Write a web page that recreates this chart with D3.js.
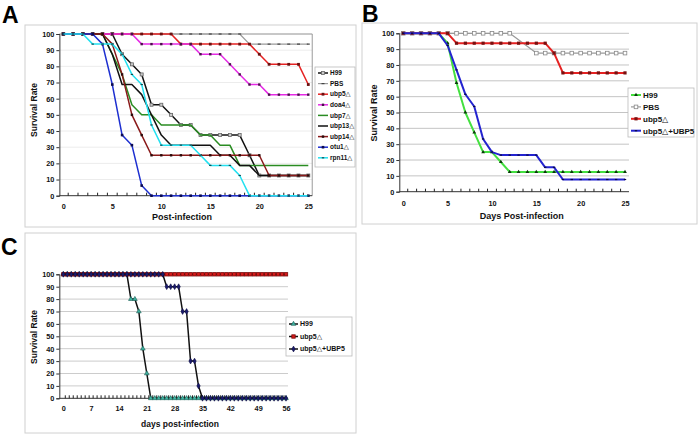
<!DOCTYPE html>
<html><head><meta charset="utf-8">
<script src="https://cdn.jsdelivr.net/npm/d3@7"></script>
<style>
html,body{margin:0;padding:0;background:#fff;}
svg text{font-family:"Liberation Sans",Arial,"DejaVu Sans",sans-serif;font-weight:bold;}
</style></head>
<body>
<svg id="c" width="699" height="439"></svg>
<script>
// ---------- DATA ----------
const daysA = [0,1,2,3,4,5,6,7,8,9,10,11,12,13,14,15,16,17,18,19,20,21,22,23,24,25];
const ticksA = [0,5,10,15,20,25];
const yTicks = [0,10,20,30,40,50,60,70,80,90,100];

const a_H99   = [100,100,100,100,100,100,87.5,81.25,75,56.25,56.25,50,43.75,43.75,37.5,37.5,37.5,37.5,37.5,25,12.5,12.5,12.5,12.5,12.5,12.5];
const a_PBS   = [100,100,100,100,100,100,100,100,100,100,100,100,100,100,100,100,100,100,100,93.75,93.75,93.75,93.75,93.75,93.75,93.75];
const a_ubp5  = [100,100,100,100,100,100,100,100,100,100,100,100,93.75,93.75,93.75,93.75,93.75,93.75,93.75,93.75,87.5,81.25,81.25,81.25,81.25,68.75];
const a_doa4  = [100,100,100,100,100,100,100,100,93.75,93.75,93.75,93.75,93.75,93.75,87.5,87.5,87.5,81.25,75,68.75,68.75,62.5,62.5,62.5,62.5,62.5];
const a_ubp7  = [100,100,100,100,100,87.5,75,56.25,50,50,43.75,43.75,43.75,43.75,37.5,37.5,31.25,31.25,18.75,18.75,18.75,18.75,18.75,18.75,18.75,18.75];
const a_ubp13 = [100,100,100,100,100,87.5,68.75,68.75,62.5,50,37.5,31.25,31.25,31.25,31.25,31.25,25,25,18.75,18.75,12.5,12.5,12.5,12.5,12.5,12.5];
const a_ubp14 = [100,100,100,100,100,93.75,75,50,37.5,25,25,25,25,25,25,25,25,25,25,25,25,12.5,12.5,12.5,12.5,12.5];
const a_otu1  = [100,100,100,100,93.75,68.75,37.5,31.25,6.25,0,0,0,0,0,0,0,0,0,0,0,0,0,0,0,0,0];
const a_rpn11 = [100,100,100,93.75,93.75,93.75,87.5,75,68.75,43.75,31.25,31.25,31.25,31.25,25,18.75,18.75,18.75,12.5,0,0,0,0,0,0,0];

const daysB = [0,1,2,3,4,5,6,7,8,9,10,11,12,13,14,15,16,17,18,19,20,21,22,23,24,25];
const ticksB = [0,5,10,15,20,25];
const b_H99   = [100,100,100,100,100,93.75,68.75,50,37.5,25,25,18.75,12.5,12.5,12.5,12.5,12.5,12.5,12.5,12.5,12.5,12.5,12.5,12.5,12.5,12.5];
const b_PBS   = [100,100,100,100,100,100,100,100,100,100,100,100,100,null,null,87.5,87.5,87.5,87.5,87.5,87.5,87.5,87.5,87.5,87.5,87.5];
const b_ubp5  = [100,100,100,100,100,100,93.75,93.75,93.75,93.75,93.75,93.75,93.75,93.75,93.75,93.75,93.75,87.5,75,75,75,75,75,75,75,75];
const b_ubp5c = [100,100,100,100,100,92.3,76.9,61.5,53.8,33.3,25,23.1,23.1,23.1,23.1,23.1,15.4,15.4,7.7,7.7,7.7,7.7,7.7,7.7,7.7,7.7];

const daysC = [0,1,2,3,4,5,6,7,8,9,10,11,12,13,14,15,16,17,18,19,20,21,22,23,24,25,26,27,28,29,30,31,32,33,34,35,36,37,38,39,40,41,42,43,44,45,46,47,48,49,50,51,52,53,54,55,56];
const ticksC = [0,7,14,21,28,35,42,49,56];
const c_H99   = [100,100,100,100,100,100,100,100,100,100,100,100,100,100,100,100,100,80,80,70,40,20,0,0,0,0,0,0,0,0,0,0,0,0,0,0,0,0,0,0,0,0,0,0,0,0,0,0,0,0,0,0,0,0,0,0,0];
const c_ubp5  = [100,100,100,100,100,100,100,100,100,100,100,100,100,100,100,100,100,100,100,100,100,100,100,100,100,100,100,100,100,100,100,100,100,100,100,100,100,100,100,100,100,100,100,100,100,100,100,100,100,100,100,100,100,100,100,100,100];
const c_ubp5c = [100,100,100,100,100,100,100,100,100,100,100,100,100,100,100,100,100,100,100,100,100,100,100,100,100,100,90,90,90,90,70,70,30,30,10,0,0,0,0,0,0,0,0,0,0,0,0,0,0,0,0,0,0,0,0,0,0];

const namesA = ["H99","PBS","ubp5△","doa4△","ubp7△","ubp13△","ubp14△","otu1△","rpn11△"];
const namesB = ["H99","PBS","ubp5△","ubp5△+UBP5"];
const namesC = ["H99","ubp5△","ubp5△+UBP5"];

// ---------- DRAW ----------
const svg = d3.select("#c");

function marker(g, type, x, y, st) {
  const s = st.size || 3;
  if (type === "sq") {
    g.append("rect").attr("x", x - s/2).attr("y", y - s/2).attr("width", s).attr("height", s)
      .attr("fill", st.mfill).attr("stroke", st.mstroke || "none").attr("stroke-width", st.msw || 0.8);
  } else if (type === "dash") {
    g.append("line").attr("x1", x - s/2).attr("x2", x + s/2).attr("y1", y).attr("y2", y)
      .attr("stroke", st.mfill).attr("stroke-width", 1.2);
  } else if (type === "tri") {
    g.append("path").attr("d", d3.symbol(d3.symbolTriangle, s*s*0.6)()).attr("transform", `translate(${x},${y})`)
      .attr("fill", st.mfill).attr("stroke", st.mstroke || "none").attr("stroke-width", st.msw || 0.6);
  } else if (type === "dia") {
    g.append("path").attr("d", d3.symbol(d3.symbolDiamond, s*s*0.6)()).attr("transform", `translate(${x},${y})`)
      .attr("fill", st.mfill).attr("stroke", st.mstroke || "none").attr("stroke-width", st.msw || 0.6);
  }
}

function panel(cfg) {
  const g = svg.append("g");
  const x = d3.scaleLinear().domain(cfg.xdom).range(cfg.xr);
  const y = d3.scaleLinear().domain([0, 100]).range(cfg.yr);
  const step = x(1) - x(0);
  const x0 = x(cfg.xdom[0]) - step * cfg.padL, x1 = x(cfg.xdom[1]) + step * cfg.padR;
  g.append("g").selectAll("line").data(yTicks.filter(t => t > 0)).join("line")
    .attr("x1", x0).attr("x2", x1).attr("y1", d => y(d)).attr("y2", d => y(d))
    .attr("stroke", cfg.grid).attr("stroke-width", 1);
  if (cfg.frame) {
    g.append("path").attr("d", `M${x0},${y(100)}H${x1}V${y(0)}`).attr("fill", "none").attr("stroke", cfg.frame).attr("stroke-width", 1);
  }
  const yAx = g.append("g").attr("transform", `translate(${x0},0)`)
    .call(d3.axisLeft(y).tickValues(yTicks).tickSize(3).tickPadding(2));
  yAx.select(".domain").attr("stroke", "#333");
  yAx.selectAll(".tick line").attr("stroke", "#333");
  yAx.selectAll("text").attr("font-size", 7.3).attr("fill", "#111");
  const xAx = g.append("g").attr("transform", `translate(0,${y(0)})`)
    .call(d3.axisBottom(x).tickValues(cfg.ticks).tickSize(0).tickPadding(cfg.xpad).tickFormat(d3.format("d")));
  xAx.select(".domain").remove();
  xAx.selectAll("text").attr("font-size", 7.3).attr("fill", "#111");
  g.append("line").attr("x1", x0).attr("x2", x1).attr("y1", y(0)).attr("y2", y(0)).attr("stroke", "#333");
  g.append("g").selectAll("line").data(cfg.days.slice(0, -1)).join("line")
    .attr("x1", d => x(d + 0.5)).attr("x2", d => x(d + 0.5))
    .attr("y1", y(0)).attr("y2", y(0) - 3).attr("stroke", "#222").attr("stroke-width", 1);
  const line = d3.line().x(d => x(d[0])).y(d => y(d[1]));
  cfg.series.forEach(s => {
    const pts = cfg.days.map((d, i) => [d, s.v[i]]).filter(p => p[1] !== null);
    g.append("path").datum(pts).attr("d", line).attr("fill", "none")
      .attr("stroke", s.color).attr("stroke-width", s.w).attr("stroke-linejoin", "round");
    if (s.m) {
      const mg = g.append("g");
      pts.forEach(p => marker(mg, s.m, x(p[0]), y(p[1]), s));
    }
  });
  g.append("text").attr("x", cfg.xt[0]).attr("y", cfg.xt[1]).attr("text-anchor", "middle")
    .attr("font-size", cfg.xtfs).attr("fill", "#111").text(cfg.xtitle);
  g.append("text").attr("transform", `translate(${cfg.yt[0]},${cfg.yt[1]}) rotate(-90)`).attr("text-anchor", "middle")
    .attr("font-size", cfg.ytfs).attr("fill", "#111").text("Survival Rate");
  const L = cfg.leg;
  g.append("rect").attr("x", L.x).attr("y", L.y).attr("width", L.w).attr("height", L.h)
    .attr("fill", "#fff").attr("stroke", "#bbb").attr("stroke-width", 0.8);
  cfg.series.forEach((s, i) => {
    const yy = L.y0 + i * L.dy;
    g.append("line").attr("x1", L.lx).attr("x2", L.lx + L.lw).attr("y1", yy).attr("y2", yy)
      .attr("stroke", s.color).attr("stroke-width", s.w);
    if (s.m) marker(g, s.m, L.lx + L.lw / 2, yy, s);
    g.append("text").attr("x", L.lx + L.lw + 2).attr("y", yy).attr("dy", "0.35em")
      .attr("font-size", L.fs).attr("fill", "#111").text(cfg.names[i]);
  });
}

[[25,25,331,202],[362,23,335,201],[25,233,331,200]].forEach(b =>
  svg.append("rect").attr("x", b[0]).attr("y", b[1]).attr("width", b[2]).attr("height", b[3])
    .attr("fill", "none").attr("stroke", "#d0d0d0").attr("stroke-width", 1));
[["A",2,23],["B",362,22],["C",1,255]].forEach(t =>
  svg.append("text").attr("x", t[1]).attr("y", t[2]).attr("font-size", 23).attr("fill", "#000").text(t[0]));

panel({
  days: daysA, ticks: ticksA, names: namesA,
  xdom: [0, 25], xr: [63.3, 308.3], yr: [195.7, 34], padL: 0.4, padR: 0.4, xpad: 8,
  grid: "#ececec", frame: "#9a9a9a",
  xtitle: "Post-infection", xt: [182, 220], xtfs: 9, yt: [37, 110], ytfs: 8.5,
  leg: {x: 315, y: 67, w: 40, h: 100, lx: 318, lw: 10, y0: 73, dy: 10.6, fs: 6.5},
  series: [
    {v: a_H99,   color: "#111", w: 1.5, m: "sq", mfill: "#c8c8c8", mstroke: "#666", size: 3},
    {v: a_PBS,   color: "#9a9a9a", w: 1.2, m: "dash", mfill: "#444", size: 3},
    {v: a_ubp5,  color: "#e52222", w: 1.5, m: "sq", mfill: "#6a1010", size: 2.8},
    {v: a_doa4,  color: "#e52ae5", w: 1.5, m: "sq", mfill: "#4a104a", size: 2.4},
    {v: a_ubp7,  color: "#2a8c22", w: 1.5},
    {v: a_ubp13, color: "#111", w: 1.5},
    {v: a_ubp14, color: "#8a1a1a", w: 1.5, m: "sq", mfill: "#2a0a0a", size: 2.4},
    {v: a_otu1,  color: "#1d2fd0", w: 1.5, m: "sq", mfill: "#0a0a50", size: 2.6},
    {v: a_rpn11, color: "#22e0f0", w: 1.5, m: "dash", mfill: "#104a50", size: 2.4}
  ]
});

panel({
  days: daysB, ticks: ticksB, names: namesB,
  xdom: [0, 25], xr: [403.3, 625], yr: [191.7, 33.3], padL: 0.45, padR: 0.45, xpad: 9,
  grid: "#c4c4c4", frame: null,
  xtitle: "Days Post-infection", xt: [521.7, 218.5], xtfs: 9, yt: [377, 113], ytfs: 9,
  leg: {x: 628, y: 88, w: 66, h: 49, lx: 631, lw: 10, y0: 95, dy: 11.9, fs: 8},
  series: [
    {v: b_H99,   color: "#44e040", w: 2, m: "tri", mfill: "#0a3a0a", size: 3.2},
    {v: b_PBS,   color: "#9a9a9a", w: 1.2, m: "sq", mfill: "#fff", mstroke: "#888", size: 3.6},
    {v: b_ubp5,  color: "#e52222", w: 2, m: "sq", mfill: "#7a1010", size: 3.2},
    {v: b_ubp5c, color: "#2323d0", w: 2, m: "dash", mfill: "#0a0a40", size: 2.4}
  ]
});

panel({
  days: daysC, ticks: ticksC, names: namesC,
  xdom: [0, 56], xr: [63.3, 286], yr: [398.3, 274.3], padL: 1, padR: 0.5, xpad: 8,
  grid: "#cccccc", frame: null,
  xtitle: "days post-infection", xt: [180, 426.5], xtfs: 8.5, yt: [37, 337], ytfs: 8.5,
  leg: {x: 286, y: 317, w: 66, h: 39, lx: 289, lw: 9, y0: 324, dy: 12.5, fs: 7},
  series: [
    {v: c_H99,   color: "#111", w: 1.5, m: "tri", mfill: "#3fb3a2", mstroke: "#1a5a50", size: 4},
    {v: c_ubp5,  color: "#111", w: 1.5, m: "sq", mfill: "#d41a1a", mstroke: "#7a0a0a", size: 3.4},
    {v: c_ubp5c, color: "#111", w: 1.5, m: "dia", mfill: "#1c1c6e", mstroke: "#0a0a40", size: 4}
  ]
});
</script>
</body></html>
